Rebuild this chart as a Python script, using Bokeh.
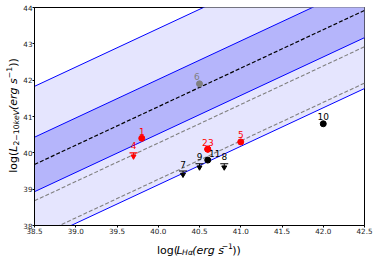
import math
from bokeh.plotting import figure
from bokeh.layouts import row, column
from bokeh.models import ColumnDataSource, FixedTicker, Range1d, NumeralTickFormatter
from bokeh.core.properties import value
from bokeh.embed import file_html
from bokeh.resources import INLINE

# ---- data ----
det_id = ["1", "2", "3", "5", "6", "11", "10"]
det_x = [39.8, 40.6, 40.6, 41.0, 40.5, 40.6, 42.0]
det_y = [40.4, 40.1, 40.1, 40.3, 41.9, 39.8, 40.8]
det_color = ["red", "red", "red", "red", "gray", "black", "black"]

ul_id = ["4", "7", "9", "8"]
ul_x = [39.7, 40.3, 40.5, 40.8]
ul_y = [40.0, 39.5, 39.7, 39.7]
ul_color = ["red", "black", "black", "black"]

rel_slope = 1.06
rel_intercept = -1.13
band_inner = 0.75
band_outer = 2.15
gray_offsets = [-1.0, -2.0]

x_ticks = [38.5, 39.0, 39.5, 40.0, 40.5, 41.0, 41.5, 42.0, 42.5]
y_ticks = [38, 39, 40, 41, 42, 43, 44]
x_lim = [38.5, 42.5]
y_lim = [38, 44]

FONT = "DejaVu Sans"

LEFT_W = 20
MAIN_W = 374 - LEFT_W
MAIN_H = 238
BOT_H = 256 - MAIN_H

p = figure(frame_width=330, frame_height=218, min_border_left=32 - LEFT_W, min_border_right=12,
           min_border_top=7, min_border_bottom=MAIN_H - 7 - 218,
           x_range=Range1d(*x_lim), y_range=Range1d(*y_lim),
           output_backend="svg", toolbar_location=None)
p.grid.visible = False
p.outline_line_color = "black"
p.outline_line_width = 1
p.background_fill_color = "white"
p.border_fill_color = "white"

for ax in (p.xaxis, p.yaxis):
    ax.major_tick_out = 2
    ax.major_tick_in = 0
    ax.minor_tick_out = 0
    ax.minor_tick_in = 0
    ax.major_label_standoff = 0
    ax.major_label_text_font = FONT
    ax.major_label_text_font_size = "7.2px"
    ax.major_label_text_color = "#222222"
    ax.axis_line_color = "black"
    ax.major_tick_line_color = "black"
p.xaxis.ticker = FixedTicker(ticks=x_ticks)
p.yaxis.ticker = FixedTicker(ticks=y_ticks)
p.xaxis.formatter = NumeralTickFormatter(format="0.0")
p.yaxis.formatter = NumeralTickFormatter(format="0")

# ---- relation bands ----
xs = list(x_lim)
def rel(off):
    return [rel_slope * x + rel_intercept + off for x in xs]

p.varea(x=xs, y1=rel(-band_outer), y2=rel(band_outer), fill_color="#e5e5fe")
p.varea(x=xs, y1=rel(-band_inner), y2=rel(band_inner), fill_color="#b5b5fb")
for off in (band_outer, band_inner, -band_inner, -band_outer):
    p.line(xs, rel(off), line_color="blue", line_width=1)
p.line(xs, rel(0.0), line_color="black", line_width=1.2, line_dash="4 2")
for off in gray_offsets:
    p.line(xs, rel(off), line_color="gray", line_width=1.1, line_dash="4 2")

# ---- upper limits ----
stem = 0.12
ul_src = ColumnDataSource(dict(x=ul_x, y=ul_y, y0=[v - stem for v in ul_y],
                               yt=[v - 0.1 for v in ul_y], c=ul_color))
p.segment(x0="x", y0="y", x1="x", y1="y0", line_color="c", line_width=1, source=ul_src)
p.scatter(x="x", y="y", marker="dash", size=8, line_color="c", line_width=1.1, source=ul_src)
p.scatter(x="x", y="yt", marker="inverted_triangle", size=5, fill_color="c", line_color="c", source=ul_src)

# ---- detections ----
det_src = ColumnDataSource(dict(x=det_x, y=det_y, c=det_color))
p.scatter(x="x", y="y", size=6, fill_color="c", line_color="c", source=det_src)

# ---- point labels ----
label_shift = {"6": (-2.6, -7.0), "11": (7.0, -6.5), "2": (-3.0, -7.0), "3": (3.0, -7.0)}
lab_text = det_id + ul_id
lab_x = det_x + ul_x
lab_y = det_y + ul_y
lab_c = det_color + ul_color
lab_dx = [label_shift.get(t, (0.0, -7.0))[0] for t in lab_text]
lab_dy = [label_shift.get(t, (0.0, -7.0))[1] for t in lab_text]
lab_src = ColumnDataSource(dict(x=lab_x, y=lab_y, t=lab_text, c=lab_c, dx=lab_dx, dy=lab_dy))
p.text(x="x", y="y", text="t", text_color="c", x_offset="dx", y_offset="dy",
       text_align="center", text_baseline="middle", text_font=value(FONT),
       text_font_size="9px", source=lab_src)

# ---- axis titles composed of text pieces (in small side figures) ----
W = {"l": 0.278, "o": 0.612, "g": 0.635, "(": 0.390, ")": 0.390, "L": 0.557, "H": 0.752,
     "α": 0.659, "e": 0.615, "r": 0.411, "s": 0.521, " ": 0.318, "−": 0.838, "1": 0.636,
     "2": 0.636, "0": 0.636, "k": 0.579, "V": 0.684}
FS = 11.0
SUBSCALE = 0.7
SUBSHIFT = 2.3
SUPSHIFT = -4.4

def width(s, size):
    return sum(W[c] for c in s) * size

def compose(segs, center, base, vertical):
    total = sum(width(t, FS * sc) for t, st, sc, sh in segs)
    out = dict(x=[], y=[], t=[], st=[], fs=[], a=[])
    pos = 0.0
    for t, st, sc, sh in segs:
        size = FS * sc
        if vertical:
            lx, ly, ang = base + sh, center + total / 2 - pos, math.pi / 2
        else:
            lx, ly, ang = center - total / 2 + pos, base + sh, 0.0
        out["x"].append(lx); out["y"].append(ly); out["t"].append(t)
        out["st"].append(st); out["fs"].append(f"{size:.2f}px"); out["a"].append(ang)
        pos += width(t, size)
    return out

def text_fig(w, h, data):
    f = figure(width=w, height=h, x_range=Range1d(0, w), y_range=Range1d(h, 0),
               min_border=0, x_axis_location=None, y_axis_location=None,
               output_backend="svg", toolbar_location=None)
    f.grid.visible = False
    f.outline_line_color = None
    f.background_fill_color = "white"
    f.border_fill_color = "white"
    f.text(x="x", y="y", text="t", angle="a", text_font=value(FONT),
           text_font_style="st", text_font_size="fs", text_color="black",
           text_align="left", text_baseline="alphabetic", source=ColumnDataSource(data))
    return f

xlabel = [("log(", "normal", 1.0, 0.0), ("L", "italic", 1.0, 0.0),
          ("Hα", "italic", SUBSCALE, SUBSHIFT), ("(erg s", "italic", 1.0, 0.0),
          ("−1", "normal", SUBSCALE, SUPSHIFT), ("))", "normal", 1.0, 0.0)]
ylabel = [("log(", "normal", 1.0, 0.0), ("L", "italic", 1.0, 0.0),
          ("2−10", "normal", SUBSCALE, SUBSHIFT), ("keV", "italic", SUBSCALE, SUBSHIFT),
          ("(erg s", "italic", 1.0, 0.0), ("−1", "normal", SUBSCALE, SUPSHIFT),
          ("))", "normal", 1.0, 0.0)]

bottom = text_fig(MAIN_W, BOT_H, compose(xlabel, 197.0 - LEFT_W, 250.0 - MAIN_H, False))
left = text_fig(LEFT_W, 256, compose(ylabel, 115.0, 13.2, True))

layout = row(left, column(p, bottom))
open("out.html", "w").write(file_html(layout, INLINE))
